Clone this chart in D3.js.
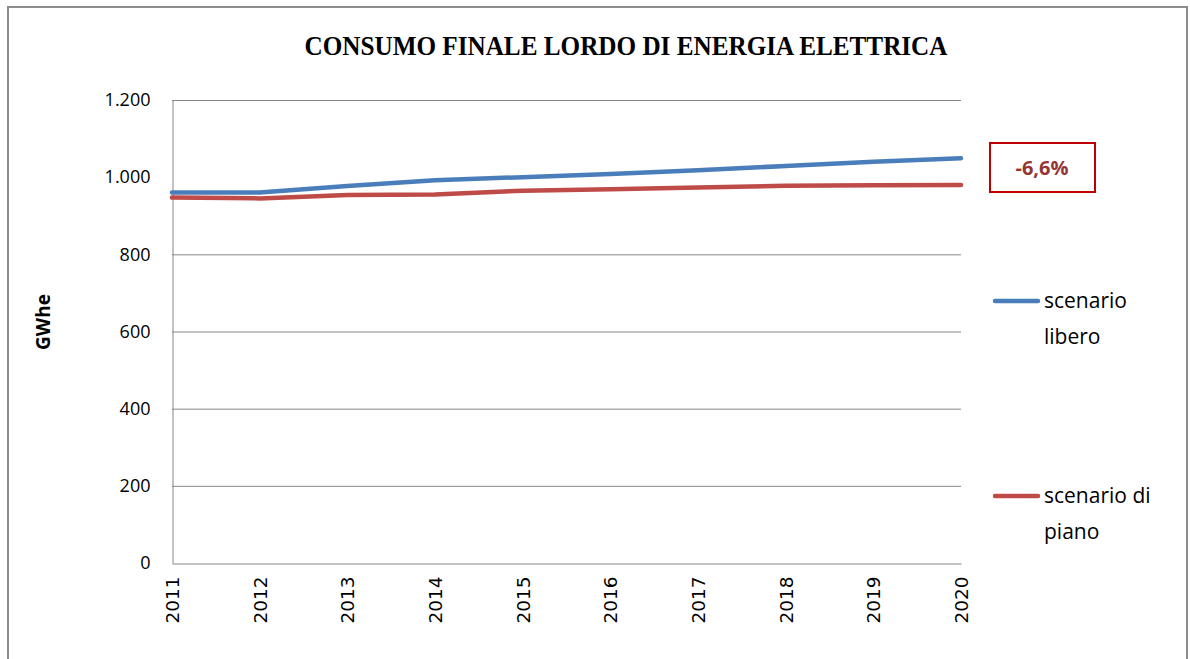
<!DOCTYPE html>
<html>
<head>
<meta charset="utf-8">
<script src="https://cdn.jsdelivr.net/npm/d3@7"></script>
<style>
  html, body { margin: 0; padding: 0; background: #ffffff; }
  svg { display: block; }
</style>
</head>
<body>
<svg id="chart" width="1190" height="659"></svg>
<script>
// Consumo finale lordo di energia elettrica (GWhe), 2011-2020
const years = [2011, 2012, 2013, 2014, 2015, 2016, 2017, 2018, 2019, 2020];
const scenarioLibero = [960, 960, 977, 992, 1000, 1008, 1018, 1029, 1040, 1049];
const scenarioPiano  = [947, 945, 954, 955, 965, 969, 973, 978, 979, 980];
const yTicks = [0, 200, 400, 600, 800, 1000, 1200];
const gridTicks = [200, 400, 600, 800, 1200];
const seriesNames = [["scenario", "libero"], ["scenario di", "piano"]];
const deltaLabel = "-6,6%";

const svg = d3.select("#chart");

const x = d3.scaleLinear().domain([years[0], years[years.length - 1]]).range([172, 961]);
const y = d3.scaleLinear().domain([0, 1200]).range([563, 100]);

const it = d3.formatLocale({ decimal: ",", thousands: ".", grouping: [3], currency: ["", " €"] });
const fmt = it.format(",d");
const sans = "'Open Sans', 'Noto Sans', sans-serif";

// outer frame
svg.append("rect")
  .attr("x", 8).attr("y", 7).attr("width", 1179).attr("height", 660)
  .attr("fill", "#ffffff").attr("stroke", "#8c8c8c").attr("stroke-width", 2);

// title
svg.append("text")
  .attr("x", 626).attr("y", 55)
  .attr("text-anchor", "middle")
  .attr("font-family", "'Liberation Serif', 'DejaVu Serif', serif")
  .attr("font-weight", "bold")
  .attr("font-size", 27)
  .attr("textLength", 643)
  .attr("lengthAdjust", "spacingAndGlyphs")
  .attr("fill", "#000")
  .text("CONSUMO FINALE LORDO DI ENERGIA ELETTRICA");

// horizontal gridlines
svg.append("g")
  .selectAll("line")
  .data(gridTicks)
  .join("line")
  .attr("x1", x.range()[0]).attr("x2", x.range()[1])
  .attr("y1", d => y(d) + 0.5).attr("y2", d => y(d) + 0.5)
  .attr("stroke", "#868686").attr("stroke-width", 1);

// y axis
const yAxis = svg.append("g")
  .attr("transform", `translate(${x.range()[0] + 0.5},0)`)
  .call(d3.axisLeft(y).tickValues(yTicks).tickFormat(fmt).tickSize(0).tickPadding(22));
yAxis.select(".domain").attr("stroke", "#868686");
yAxis.selectAll("text")
  .attr("font-family", sans)
  .attr("font-size", 18)
  .attr("fill", "#000");

// x axis
const xAxis = svg.append("g")
  .attr("transform", `translate(0,${y(0) + 0.5})`)
  .call(d3.axisBottom(x).tickValues(years).tickFormat(d3.format("d")).tickSize(0));
xAxis.select(".domain").attr("stroke", "#868686");
xAxis.selectAll("text")
  .attr("font-family", "'DejaVu Sans', Verdana, sans-serif")
  .attr("font-size", 18.5)
  .attr("fill", "#000")
  .attr("text-anchor", "end")
  .attr("transform", "rotate(-90)")
  .attr("x", -13)
  .attr("y", 0)
  .attr("dy", "0.35em");

// y axis title
svg.append("text")
  .attr("transform", "translate(50,322) rotate(-90)")
  .attr("text-anchor", "middle")
  .attr("font-family", sans)
  .attr("font-weight", "bold")
  .attr("font-size", 19)
  .attr("fill", "#000")
  .text("GWhe");

// series lines
const colors = ["#4a7ebb", "#be4b48"];
const seriesData = [scenarioLibero, scenarioPiano];
const line = d3.line().x((d, i) => x(years[i])).y(d => y(d));
seriesData.forEach((vals, k) => {
  svg.append("path")
    .datum(vals)
    .attr("d", line)
    .attr("fill", "none")
    .attr("stroke", colors[k])
    .attr("stroke-width", 4.5)
    .attr("stroke-linejoin", "round")
    .attr("stroke-linecap", "round");
});

// legend
const legendY = [301, 496];
seriesNames.forEach((lines, k) => {
  const g = svg.append("g");
  g.append("line")
    .attr("x1", 995).attr("x2", 1038)
    .attr("y1", legendY[k]).attr("y2", legendY[k])
    .attr("stroke", colors[k]).attr("stroke-width", 4.5)
    .attr("stroke-linecap", "round");
  lines.forEach((t, j) => {
    g.append("text")
      .attr("x", 1044)
      .attr("y", legendY[k] + j * 36)
      .attr("dy", "0.35em")
      .attr("font-family", sans)
      .attr("font-size", 21)
      .attr("fill", "#000")
      .text(t);
  });
});

// percentage change box
svg.append("rect")
  .attr("x", 990).attr("y", 143).attr("width", 105).attr("height", 49)
  .attr("fill", "#ffffff").attr("stroke", "#c00000").attr("stroke-width", 2);
svg.append("text")
  .attr("x", 1042).attr("y", 168)
  .attr("dy", "0.35em")
  .attr("text-anchor", "middle")
  .attr("font-family", sans)
  .attr("font-weight", "bold")
  .attr("font-size", 20)
  .attr("fill", "#963634")
  .text(deltaLabel);
</script>
</body>
</html>
